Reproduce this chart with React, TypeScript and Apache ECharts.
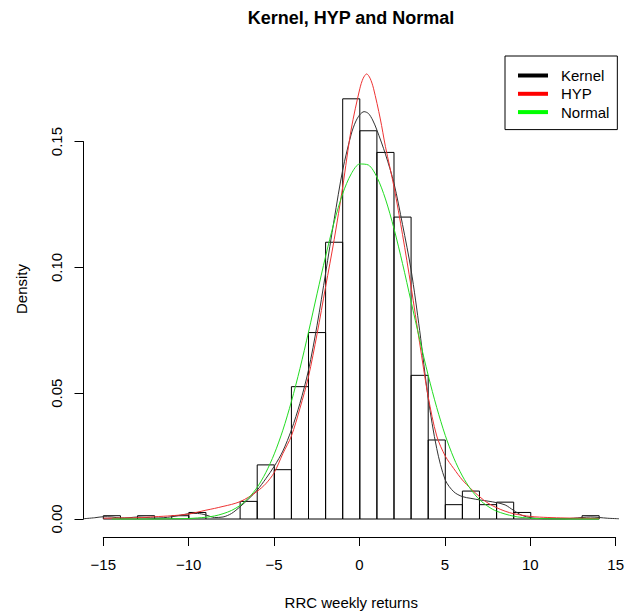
import React, { useEffect, useRef } from "react";
import * as echarts from "echarts";

// Histogram (bin width 1)
const binWidth = 1;
const binStarts = [-15, -14, -13, -12, -11, -10, -9, -8, -7, -6, -5, -4, -3, -2, -1, 0, 1, 2, 3, 4, 5, 6, 7, 8, 9, 10, 11, 12, 13];
const binDensity = [0.0013, 0, 0.0013, 0, 0.0013, 0.0026, 0, 0, 0.0070, 0.0215, 0.0196, 0.0526, 0.0741, 0.1100, 0.1670, 0.1543, 0.1457, 0.1200, 0.0571, 0.0314, 0.0057, 0.0111, 0.0057, 0.0067, 0.0026, 0, 0, 0, 0.0013];

// Kernel density estimate
const kernelX = [-16.16, -15.5, -15, -14.5, -14, -13.5, -13, -12.5, -12, -11.5, -11, -10.5, -10, -9.5, -9, -8.5, -8, -7.5, -7, -6.5, -6, -5.5, -5, -4.5, -4, -3.5, -3, -2.5, -2, -1.5, -1, -0.5, -0.25, 0, 0.25, 0.5, 0.75, 1, 1.5, 2, 2.5, 3, 3.5, 4, 4.5, 5, 5.5, 6, 6.5, 7, 7.5, 8, 8.5, 9, 9.5, 10, 10.5, 11, 12, 12.5, 13, 13.5, 14, 14.5, 15.16];
const kernelY = [0.0001, 0.0005, 0.0009, 0.0008, 0.0004, 0.0005, 0.0008, 0.0006, 0.0004, 0.0005, 0.0009, 0.0015, 0.0021, 0.0022, 0.0016, 0.0006, 0.0008, 0.0022, 0.0049, 0.0080, 0.0115, 0.0160, 0.0210, 0.0270, 0.0354, 0.0460, 0.0592, 0.0770, 0.0977, 0.1190, 0.1387, 0.1530, 0.1578, 0.1607, 0.1619, 0.1612, 0.1586, 0.1546, 0.1450, 0.1334, 0.1170, 0.0990, 0.0750, 0.0480, 0.0280, 0.0155, 0.0108, 0.0089, 0.0082, 0.0076, 0.0071, 0.0065, 0.0056, 0.0034, 0.0014, 0.0005, 0.0002, 0.0001, 0.0001, 0.0003, 0.0006, 0.0008, 0.0006, 0.0003, 0.0001];

// Hyperbolic (HYP) fitted density
const hypX = [-15, -14, -13, -12, -11, -10, -9, -8.5, -8, -7.5, -7, -6.5, -6, -5.5, -5, -4.5, -4, -3.5, -3, -2.5, -2, -1.5, -1, -0.5, 0, 0.2, 0.4, 0.6, 0.8, 1.2, 1.5, 2, 2.5, 3, 3.5, 4, 4.5, 5, 5.5, 6, 6.5, 7, 7.5, 8, 8.5, 9, 10, 11, 12, 13, 14];
const hypY = [0.0003, 0.0004, 0.0005, 0.0009, 0.0013, 0.0020, 0.0035, 0.0042, 0.0050, 0.0058, 0.0069, 0.0087, 0.0110, 0.0140, 0.0185, 0.0260, 0.0330, 0.0440, 0.0566, 0.0735, 0.0923, 0.1110, 0.1320, 0.1550, 0.1710, 0.1752, 0.1769, 0.1752, 0.1712, 0.1590, 0.1480, 0.1320, 0.1130, 0.0923, 0.0700, 0.0486, 0.0330, 0.0250, 0.0200, 0.0155, 0.0120, 0.0089, 0.0063, 0.0045, 0.0031, 0.0021, 0.0010, 0.0006, 0.0004, 0.0003, 0.0002];

// Normal fitted density
const normX = [-14.5, -13, -12, -11, -10, -9, -8.5, -8, -7.5, -7, -6.5, -6, -5.5, -5, -4.5, -4, -3.5, -3, -2.5, -2, -1.5, -1, -0.5, 0, 0.5, 1, 1.5, 2, 2.5, 3, 3.5, 4, 4.5, 5, 5.5, 6, 6.5, 7, 7.5, 8, 9, 10, 11, 12, 14];
const normY = [0, 0, 0, 0.0001, 0.0002, 0.0007, 0.0012, 0.0021, 0.0034, 0.0054, 0.0084, 0.0126, 0.0184, 0.0259, 0.0353, 0.0467, 0.0598, 0.0743, 0.0895, 0.1044, 0.1180, 0.1293, 0.1372, 0.1411, 0.1407, 0.1359, 0.1272, 0.1154, 0.1015, 0.0864, 0.0714, 0.0571, 0.0443, 0.0332, 0.0242, 0.0171, 0.0117, 0.0077, 0.0050, 0.0031, 0.0011, 0.0003, 0.0001, 0, 0];

const xTicks = { min: -15, max: 15, interval: 5 };
const yTicks = { min: 0, max: 0.15, interval: 0.05 };

const FONT = "'Liberation Sans', Arial, sans-serif";

const pairs = (xs: number[], ys: number[]) => xs.map((x, i) => [x, ys[i]]);

export default function App() {
  const ref = useRef<HTMLDivElement>(null);
  useEffect(() => {
    if (!ref.current) return;
    const chart = echarts.init(ref.current, undefined, { renderer: "svg" });
    const option: any = {
      animation: false,
      backgroundColor: "#ffffff",
      textStyle: { fontFamily: FONT },
      title: {
        text: "Kernel, HYP and Normal",
        left: 351,
        textAlign: "center",
        top: 9,
        padding: 0,
        textStyle: { fontFamily: FONT, fontSize: 18, fontWeight: "bold", color: "#000" },
      },
      legend: {
        left: 505,
        top: 56,
        orient: "vertical",
        icon: "rect",
        itemWidth: 30,
        itemHeight: 4,
        itemGap: 3.3,
        padding: [12, 8, 10, 13],
        borderColor: "#000",
        borderWidth: 1,
        backgroundColor: "#fff",
        textStyle: { fontFamily: FONT, fontSize: 15, color: "#000", lineHeight: 15, padding: [0, 0, 0, 8] },
        data: [
          { name: "Kernel", itemStyle: { color: "#000" } },
          { name: "HYP", itemStyle: { color: "#ff0000" } },
          { name: "Normal", itemStyle: { color: "#00ff00" } },
        ],
      },
      grid: [
        { left: 83.5, right: 8, top: 141.6, bottom: 97 },
        { left: 103.3, right: 10.7, top: 500, bottom: 79 },
      ],
      xAxis: [
        {
          gridIndex: 0,
          type: "value",
          min: -16.16,
          max: 15.16,
          axisLine: { show: false, onZero: false },
          axisTick: { show: false },
          axisLabel: { show: false },
          splitLine: { show: false },
          name: "RRC weekly returns",
          nameLocation: "middle",
          nameGap: 76,
          nameTextStyle: { fontFamily: FONT, fontSize: 15, color: "#000" },
        },
        {
          gridIndex: 1,
          type: "value",
          min: xTicks.min,
          max: xTicks.max,
          interval: xTicks.interval,
          axisLine: { show: true, onZero: false, lineStyle: { color: "#000", width: 1 } },
          axisTick: { show: true, length: 9, lineStyle: { color: "#000", width: 1 } },
          axisLabel: {
            show: true,
            margin: 20,
            fontFamily: FONT,
            fontSize: 15,
            color: "#000",
            formatter: (v: number) => String(v).replace("-", "\u2212"),
          },
          splitLine: { show: false },
        },
      ],
      yAxis: [
        {
          gridIndex: 0,
          type: "value",
          min: yTicks.min,
          max: yTicks.max,
          interval: yTicks.interval,
          axisLine: { show: true, onZero: false, lineStyle: { color: "#000", width: 1 } },
          axisTick: { show: true, length: 9, lineStyle: { color: "#000", width: 1 } },
          axisLabel: {
            show: true,
            rotate: 90,
            margin: 20,
            fontFamily: FONT,
            fontSize: 15,
            color: "#000",
            formatter: (v: number) => v.toFixed(2),
          },
          splitLine: { show: false },
        },
        { gridIndex: 1, type: "value", show: false },
      ],
      graphic: [
        {
          type: "text",
          x: 21,
          y: 289,
          rotation: Math.PI / 2,
          style: {
            text: "Density",
            fontFamily: FONT,
            fontSize: 15,
            fill: "#000",
            align: "center",
            verticalAlign: "middle",
          },
        },
      ],
      series: [
        {
          type: "custom",
          name: "hist",
          xAxisIndex: 0,
          yAxisIndex: 0,
          clip: false,
          silent: true,
          data: binStarts.map((s, i) => [s, binDensity[i]]),
          encode: { x: 0, y: 1 },
          renderItem: (params: any, api: any) => {
            const x0 = api.value(0);
            const d = api.value(1);
            const p0 = api.coord([x0, 0]);
            const p1 = api.coord([x0 + binWidth, d]);
            if (d <= 0) {
              return {
                type: "line",
                shape: { x1: p0[0], y1: p0[1], x2: p1[0], y2: p0[1] },
                style: { stroke: "#000", lineWidth: 1 },
              };
            }
            return {
              type: "rect",
              shape: { x: p0[0], y: p1[1], width: p1[0] - p0[0], height: p0[1] - p1[1] },
              style: { fill: "none", stroke: "#000", lineWidth: 1 },
            };
          },
        },
        {
          type: "line",
          name: "Kernel",
          xAxisIndex: 0,
          yAxisIndex: 0,
          data: pairs(kernelX, kernelY),
          showSymbol: false,
          smooth: 0.3,
          clip: false,
          color: "#000",
          lineStyle: { color: "#333", width: 1 },
        },
        {
          type: "line",
          name: "HYP",
          xAxisIndex: 0,
          yAxisIndex: 0,
          data: pairs(hypX, hypY),
          showSymbol: false,
          smooth: 0.3,
          clip: false,
          color: "#ff0000",
          lineStyle: { color: "#ee3333", width: 1 },
        },
        {
          type: "line",
          name: "Normal",
          xAxisIndex: 0,
          yAxisIndex: 0,
          data: pairs(normX, normY),
          showSymbol: false,
          smooth: 0.3,
          clip: false,
          color: "#00ff00",
          lineStyle: { color: "#22dd22", width: 1 },
        },
      ],
    };
    chart.setOption(option);
    return () => chart.dispose();
  }, []);
  return (
    <div
      ref={ref}
      style={{ position: "fixed", left: 0, top: 0, width: 627, height: 616, background: "#fff" }}
    />
  );
}
